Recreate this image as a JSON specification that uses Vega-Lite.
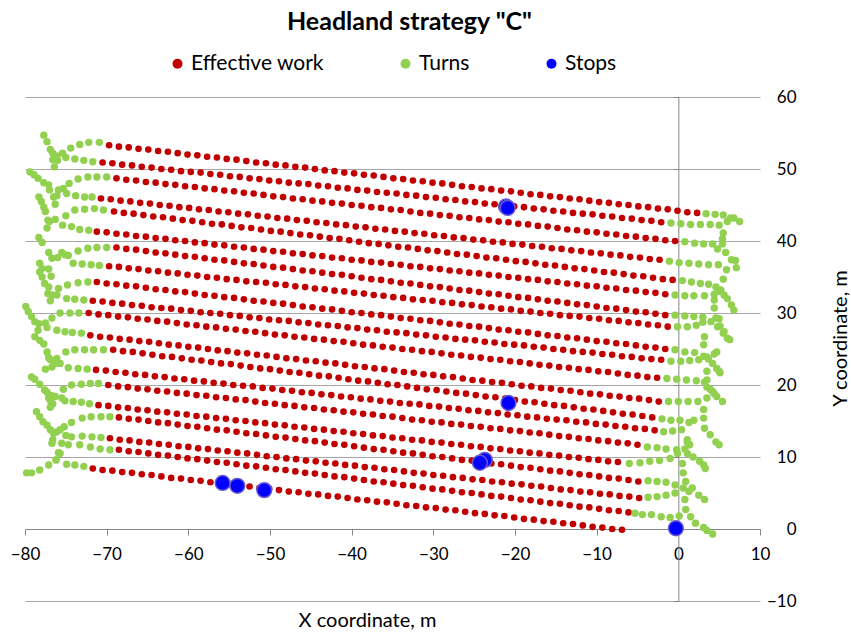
{
"$schema":"https://vega.github.io/schema/vega-lite/v6.json",
"width":735,"height":504,
"autosize":{"type":"none"},
"padding":{"left":25,"top":97,"right":91,"bottom":36},
"config":{"view":{"stroke":null},"font":"Lato"},
"title":{"text":"Headland strategy \"C\"","font":"Lato","fontSize":25,"fontWeight":"bold","color":"#000000","anchor":"middle","dx":17,"dy":-14},
"datasets":{
"work":[
{"x":-69.7,"y":53.3},{"x":-68.5,"y":53.1},{"x":-67.3,"y":53.0},{"x":-66.1,"y":52.8},{"x":-64.9,"y":52.7},{"x":-63.7,"y":52.5},{"x":-62.5,"y":52.4},{"x":-61.3,"y":52.2},{"x":-60.1,"y":52.0},{"x":-58.9,"y":51.9},{"x":-57.7,"y":51.7},{"x":-56.5,"y":51.6},{"x":-55.3,"y":51.4},{"x":-54.1,"y":51.3},{"x":-52.9,"y":51.1},{"x":-51.7,"y":50.9},{"x":-50.5,"y":50.8},{"x":-49.3,"y":50.6},{"x":-48.1,"y":50.5},{"x":-46.9,"y":50.3},{"x":-45.7,"y":50.2},{"x":-44.5,"y":50.0},{"x":-43.3,"y":49.8},{"x":-42.1,"y":49.7},{"x":-40.9,"y":49.5},{"x":-39.7,"y":49.4},{"x":-38.5,"y":49.2},{"x":-37.3,"y":49.1},{"x":-36.1,"y":48.9},{"x":-34.9,"y":48.7},{"x":-33.7,"y":48.6},{"x":-32.5,"y":48.4},{"x":-31.3,"y":48.3},{"x":-30.1,"y":48.1},{"x":-28.9,"y":48.0},{"x":-27.7,"y":47.8},{"x":-26.5,"y":47.6},{"x":-25.3,"y":47.5},{"x":-24.1,"y":47.3},{"x":-22.9,"y":47.2},{"x":-21.7,"y":47.0},{"x":-20.5,"y":46.9},{"x":-19.3,"y":46.7},{"x":-18.1,"y":46.5},{"x":-16.9,"y":46.4},{"x":-15.7,"y":46.2},{"x":-14.5,"y":46.1},{"x":-13.3,"y":45.9},{"x":-12.1,"y":45.8},{"x":-10.9,"y":45.6},{"x":-9.7,"y":45.4},{"x":-8.5,"y":45.3},{"x":-7.3,"y":45.1},{"x":-6.1,"y":45.0},{"x":-4.9,"y":44.8},{"x":-3.7,"y":44.7},{"x":-2.5,"y":44.5},{"x":-1.3,"y":44.4},{"x":-0.1,"y":44.2},{"x":1.1,"y":44.0},{"x":2.3,"y":43.9},
{"x":-70.5,"y":50.9},{"x":-69.3,"y":50.8},{"x":-68.1,"y":50.6},{"x":-66.9,"y":50.5},{"x":-65.7,"y":50.3},{"x":-64.5,"y":50.2},{"x":-63.3,"y":50.0},{"x":-62.1,"y":49.9},{"x":-60.9,"y":49.7},{"x":-59.7,"y":49.6},{"x":-58.5,"y":49.5},{"x":-57.3,"y":49.3},{"x":-56.1,"y":49.2},{"x":-54.9,"y":49.0},{"x":-53.7,"y":48.9},{"x":-52.5,"y":48.7},{"x":-51.3,"y":48.6},{"x":-50.1,"y":48.4},{"x":-48.9,"y":48.3},{"x":-47.7,"y":48.1},{"x":-46.5,"y":48.0},{"x":-45.3,"y":47.9},{"x":-44.1,"y":47.7},{"x":-42.9,"y":47.6},{"x":-41.7,"y":47.4},{"x":-40.5,"y":47.3},{"x":-39.3,"y":47.1},{"x":-38.1,"y":47.0},{"x":-36.9,"y":46.8},{"x":-35.7,"y":46.7},{"x":-34.5,"y":46.6},{"x":-33.3,"y":46.4},{"x":-32.1,"y":46.3},{"x":-30.9,"y":46.1},{"x":-29.7,"y":46.0},{"x":-28.5,"y":45.8},{"x":-27.3,"y":45.7},{"x":-26.1,"y":45.5},{"x":-24.9,"y":45.4},{"x":-23.7,"y":45.2},{"x":-22.5,"y":45.1},{"x":-21.3,"y":45.0},{"x":-20.1,"y":44.8},{"x":-18.9,"y":44.7},{"x":-17.7,"y":44.5},{"x":-16.5,"y":44.4},{"x":-15.3,"y":44.2},{"x":-14.1,"y":44.1},{"x":-12.9,"y":43.9},{"x":-11.7,"y":43.8},{"x":-10.5,"y":43.7},{"x":-9.3,"y":43.5},{"x":-8.1,"y":43.4},{"x":-6.9,"y":43.2},{"x":-5.7,"y":43.1},{"x":-4.5,"y":42.9},{"x":-3.3,"y":42.8},{"x":-2.1,"y":42.6},
{"x":-68.8,"y":48.7},{"x":-67.6,"y":48.5},{"x":-66.4,"y":48.4},{"x":-65.2,"y":48.2},{"x":-64.0,"y":48.1},{"x":-62.8,"y":47.9},{"x":-61.6,"y":47.8},{"x":-60.4,"y":47.6},{"x":-59.2,"y":47.5},{"x":-58.0,"y":47.3},{"x":-56.8,"y":47.2},{"x":-55.6,"y":47.0},{"x":-54.4,"y":46.9},{"x":-53.2,"y":46.7},{"x":-52.0,"y":46.6},{"x":-50.8,"y":46.4},{"x":-49.6,"y":46.2},{"x":-48.4,"y":46.1},{"x":-47.2,"y":45.9},{"x":-46.0,"y":45.8},{"x":-44.8,"y":45.6},{"x":-43.6,"y":45.5},{"x":-42.4,"y":45.3},{"x":-41.2,"y":45.2},{"x":-40.0,"y":45.0},{"x":-38.8,"y":44.9},{"x":-37.6,"y":44.7},{"x":-36.4,"y":44.6},{"x":-35.2,"y":44.4},{"x":-34.0,"y":44.3},{"x":-32.8,"y":44.1},{"x":-31.6,"y":43.9},{"x":-30.4,"y":43.8},{"x":-29.2,"y":43.6},{"x":-28.0,"y":43.5},{"x":-26.8,"y":43.3},{"x":-25.6,"y":43.2},{"x":-24.4,"y":43.0},{"x":-23.2,"y":42.9},{"x":-22.0,"y":42.7},{"x":-20.8,"y":42.6},{"x":-19.6,"y":42.4},{"x":-18.4,"y":42.3},{"x":-17.2,"y":42.1},{"x":-16.0,"y":42.0},{"x":-14.8,"y":41.8},{"x":-13.6,"y":41.6},{"x":-12.4,"y":41.5},{"x":-11.2,"y":41.3},{"x":-10.0,"y":41.2},{"x":-8.8,"y":41.0},{"x":-7.6,"y":40.9},{"x":-6.4,"y":40.7},{"x":-5.2,"y":40.6},{"x":-4.0,"y":40.4},{"x":-2.8,"y":40.3},{"x":-1.6,"y":40.1},{"x":-0.4,"y":40.0},
{"x":-70.7,"y":45.9},{"x":-69.5,"y":45.8},{"x":-68.3,"y":45.6},{"x":-67.1,"y":45.5},{"x":-65.9,"y":45.3},{"x":-64.7,"y":45.2},{"x":-63.5,"y":45.0},{"x":-62.3,"y":44.9},{"x":-61.1,"y":44.7},{"x":-59.9,"y":44.6},{"x":-58.7,"y":44.4},{"x":-57.5,"y":44.3},{"x":-56.3,"y":44.1},{"x":-55.1,"y":44.0},{"x":-53.9,"y":43.8},{"x":-52.7,"y":43.7},{"x":-51.5,"y":43.5},{"x":-50.3,"y":43.4},{"x":-49.1,"y":43.2},{"x":-47.9,"y":43.1},{"x":-46.7,"y":42.9},{"x":-45.5,"y":42.8},{"x":-44.3,"y":42.6},{"x":-43.1,"y":42.5},{"x":-41.9,"y":42.3},{"x":-40.7,"y":42.2},{"x":-39.5,"y":42.0},{"x":-38.3,"y":41.9},{"x":-37.1,"y":41.7},{"x":-35.9,"y":41.6},{"x":-34.7,"y":41.4},{"x":-33.5,"y":41.3},{"x":-32.3,"y":41.1},{"x":-31.1,"y":41.0},{"x":-29.9,"y":40.8},{"x":-28.7,"y":40.7},{"x":-27.5,"y":40.5},{"x":-26.3,"y":40.4},{"x":-25.1,"y":40.2},{"x":-23.9,"y":40.1},{"x":-22.7,"y":39.9},{"x":-21.5,"y":39.8},{"x":-20.3,"y":39.6},{"x":-19.1,"y":39.5},{"x":-17.9,"y":39.3},{"x":-16.7,"y":39.2},{"x":-15.5,"y":39.0},{"x":-14.3,"y":38.9},{"x":-13.1,"y":38.7},{"x":-11.9,"y":38.6},{"x":-10.7,"y":38.4},{"x":-9.5,"y":38.3},{"x":-8.3,"y":38.1},{"x":-7.1,"y":38.0},{"x":-5.9,"y":37.8},{"x":-4.7,"y":37.7},{"x":-3.5,"y":37.5},{"x":-2.3,"y":37.4},
{"x":-69.1,"y":44.1},{"x":-67.9,"y":43.9},{"x":-66.7,"y":43.8},{"x":-65.5,"y":43.6},{"x":-64.3,"y":43.4},{"x":-63.1,"y":43.3},{"x":-61.9,"y":43.1},{"x":-60.7,"y":42.9},{"x":-59.5,"y":42.8},{"x":-58.3,"y":42.6},{"x":-57.1,"y":42.4},{"x":-55.9,"y":42.3},{"x":-54.7,"y":42.1},{"x":-53.5,"y":41.9},{"x":-52.3,"y":41.8},{"x":-51.1,"y":41.6},{"x":-49.9,"y":41.4},{"x":-48.7,"y":41.3},{"x":-47.5,"y":41.1},{"x":-46.3,"y":40.9},{"x":-45.1,"y":40.8},{"x":-43.9,"y":40.6},{"x":-42.7,"y":40.4},{"x":-41.5,"y":40.3},{"x":-40.3,"y":40.1},{"x":-39.1,"y":39.9},{"x":-37.9,"y":39.7},{"x":-36.7,"y":39.6},{"x":-35.5,"y":39.4},{"x":-34.3,"y":39.2},{"x":-33.1,"y":39.1},{"x":-31.9,"y":38.9},{"x":-30.7,"y":38.7},{"x":-29.5,"y":38.6},{"x":-28.3,"y":38.4},{"x":-27.1,"y":38.2},{"x":-25.9,"y":38.1},{"x":-24.7,"y":37.9},{"x":-23.5,"y":37.7},{"x":-22.3,"y":37.6},{"x":-21.1,"y":37.4},{"x":-19.9,"y":37.2},{"x":-18.7,"y":37.1},{"x":-17.5,"y":36.9},{"x":-16.3,"y":36.7},{"x":-15.1,"y":36.6},{"x":-13.9,"y":36.4},{"x":-12.7,"y":36.2},{"x":-11.5,"y":36.1},{"x":-10.3,"y":35.9},{"x":-9.1,"y":35.7},{"x":-7.9,"y":35.6},{"x":-6.7,"y":35.4},{"x":-5.5,"y":35.2},{"x":-4.3,"y":35.1},{"x":-3.1,"y":34.9},{"x":-1.9,"y":34.7},{"x":-0.7,"y":34.6},
{"x":-71.2,"y":41.3},{"x":-70.0,"y":41.2},{"x":-68.8,"y":41.0},{"x":-67.6,"y":40.9},{"x":-66.4,"y":40.7},{"x":-65.2,"y":40.6},{"x":-64.0,"y":40.4},{"x":-62.8,"y":40.3},{"x":-61.6,"y":40.1},{"x":-60.4,"y":40.0},{"x":-59.2,"y":39.8},{"x":-58.0,"y":39.7},{"x":-56.8,"y":39.5},{"x":-55.6,"y":39.4},{"x":-54.4,"y":39.2},{"x":-53.2,"y":39.1},{"x":-52.0,"y":38.9},{"x":-50.8,"y":38.8},{"x":-49.6,"y":38.6},{"x":-48.4,"y":38.5},{"x":-47.2,"y":38.3},{"x":-46.0,"y":38.2},{"x":-44.8,"y":38.0},{"x":-43.6,"y":37.9},{"x":-42.4,"y":37.7},{"x":-41.2,"y":37.6},{"x":-40.0,"y":37.4},{"x":-38.8,"y":37.3},{"x":-37.6,"y":37.1},{"x":-36.4,"y":37.0},{"x":-35.2,"y":36.8},{"x":-34.0,"y":36.7},{"x":-32.8,"y":36.5},{"x":-31.6,"y":36.4},{"x":-30.4,"y":36.2},{"x":-29.2,"y":36.1},{"x":-28.0,"y":35.9},{"x":-26.8,"y":35.8},{"x":-25.6,"y":35.6},{"x":-24.4,"y":35.5},{"x":-23.2,"y":35.3},{"x":-22.0,"y":35.2},{"x":-20.8,"y":35.0},{"x":-19.6,"y":34.9},{"x":-18.4,"y":34.7},{"x":-17.2,"y":34.6},{"x":-16.0,"y":34.4},{"x":-14.8,"y":34.3},{"x":-13.6,"y":34.1},{"x":-12.4,"y":34.0},{"x":-11.2,"y":33.8},{"x":-10.0,"y":33.7},{"x":-8.8,"y":33.5},{"x":-7.6,"y":33.4},{"x":-6.4,"y":33.2},{"x":-5.2,"y":33.1},{"x":-4.0,"y":32.9},{"x":-2.8,"y":32.8},{"x":-1.6,"y":32.6},
{"x":-68.8,"y":39.1},{"x":-67.6,"y":38.9},{"x":-66.4,"y":38.8},{"x":-65.2,"y":38.6},{"x":-64.0,"y":38.4},{"x":-62.8,"y":38.3},{"x":-61.6,"y":38.1},{"x":-60.4,"y":37.9},{"x":-59.2,"y":37.8},{"x":-58.0,"y":37.6},{"x":-56.8,"y":37.4},{"x":-55.6,"y":37.3},{"x":-54.4,"y":37.1},{"x":-53.2,"y":36.9},{"x":-52.0,"y":36.8},{"x":-50.8,"y":36.6},{"x":-49.6,"y":36.4},{"x":-48.4,"y":36.3},{"x":-47.2,"y":36.1},{"x":-46.0,"y":35.9},{"x":-44.8,"y":35.8},{"x":-43.6,"y":35.6},{"x":-42.4,"y":35.4},{"x":-41.2,"y":35.3},{"x":-40.0,"y":35.1},{"x":-38.8,"y":34.9},{"x":-37.6,"y":34.7},{"x":-36.4,"y":34.6},{"x":-35.2,"y":34.4},{"x":-34.0,"y":34.2},{"x":-32.8,"y":34.1},{"x":-31.6,"y":33.9},{"x":-30.4,"y":33.7},{"x":-29.2,"y":33.6},{"x":-28.0,"y":33.4},{"x":-26.8,"y":33.2},{"x":-25.6,"y":33.1},{"x":-24.4,"y":32.9},{"x":-23.2,"y":32.7},{"x":-22.0,"y":32.6},{"x":-20.8,"y":32.4},{"x":-19.6,"y":32.2},{"x":-18.4,"y":32.1},{"x":-17.2,"y":31.9},{"x":-16.0,"y":31.7},{"x":-14.8,"y":31.6},{"x":-13.6,"y":31.4},{"x":-12.4,"y":31.2},{"x":-11.2,"y":31.1},{"x":-10.0,"y":30.9},{"x":-8.8,"y":30.7},{"x":-7.6,"y":30.6},{"x":-6.4,"y":30.4},{"x":-5.2,"y":30.2},{"x":-4.0,"y":30.1},{"x":-2.8,"y":29.9},{"x":-1.6,"y":29.7},
{"x":-69.7,"y":36.5},{"x":-68.5,"y":36.4},{"x":-67.3,"y":36.2},{"x":-66.1,"y":36.1},{"x":-64.9,"y":35.9},{"x":-63.7,"y":35.8},{"x":-62.5,"y":35.6},{"x":-61.3,"y":35.5},{"x":-60.1,"y":35.3},{"x":-58.9,"y":35.2},{"x":-57.7,"y":35.0},{"x":-56.5,"y":34.9},{"x":-55.3,"y":34.7},{"x":-54.1,"y":34.6},{"x":-52.9,"y":34.4},{"x":-51.7,"y":34.3},{"x":-50.5,"y":34.2},{"x":-49.3,"y":34.0},{"x":-48.1,"y":33.9},{"x":-46.9,"y":33.7},{"x":-45.7,"y":33.6},{"x":-44.5,"y":33.4},{"x":-43.3,"y":33.3},{"x":-42.1,"y":33.1},{"x":-40.9,"y":33.0},{"x":-39.7,"y":32.8},{"x":-38.5,"y":32.7},{"x":-37.3,"y":32.5},{"x":-36.1,"y":32.4},{"x":-34.9,"y":32.2},{"x":-33.7,"y":32.1},{"x":-32.5,"y":31.9},{"x":-31.3,"y":31.8},{"x":-30.1,"y":31.7},{"x":-28.9,"y":31.5},{"x":-27.7,"y":31.4},{"x":-26.5,"y":31.2},{"x":-25.3,"y":31.1},{"x":-24.1,"y":30.9},{"x":-22.9,"y":30.8},{"x":-21.7,"y":30.6},{"x":-20.5,"y":30.5},{"x":-19.3,"y":30.3},{"x":-18.1,"y":30.2},{"x":-16.9,"y":30.0},{"x":-15.7,"y":29.9},{"x":-14.5,"y":29.7},{"x":-13.3,"y":29.6},{"x":-12.1,"y":29.5},{"x":-10.9,"y":29.3},{"x":-9.7,"y":29.2},{"x":-8.5,"y":29.0},{"x":-7.3,"y":28.9},{"x":-6.1,"y":28.7},{"x":-4.9,"y":28.6},{"x":-3.7,"y":28.4},{"x":-2.5,"y":28.3},{"x":-1.3,"y":28.1},
{"x":-71.2,"y":34.3},{"x":-70.0,"y":34.1},{"x":-68.8,"y":34.0},{"x":-67.6,"y":33.8},{"x":-66.4,"y":33.7},{"x":-65.2,"y":33.5},{"x":-64.0,"y":33.3},{"x":-62.8,"y":33.2},{"x":-61.6,"y":33.0},{"x":-60.4,"y":32.9},{"x":-59.2,"y":32.7},{"x":-58.0,"y":32.5},{"x":-56.8,"y":32.4},{"x":-55.6,"y":32.2},{"x":-54.4,"y":32.1},{"x":-53.2,"y":31.9},{"x":-52.0,"y":31.7},{"x":-50.8,"y":31.6},{"x":-49.6,"y":31.4},{"x":-48.4,"y":31.3},{"x":-47.2,"y":31.1},{"x":-46.0,"y":30.9},{"x":-44.8,"y":30.8},{"x":-43.6,"y":30.6},{"x":-42.4,"y":30.5},{"x":-41.2,"y":30.3},{"x":-40.0,"y":30.1},{"x":-38.8,"y":30.0},{"x":-37.6,"y":29.8},{"x":-36.4,"y":29.7},{"x":-35.2,"y":29.5},{"x":-34.0,"y":29.3},{"x":-32.8,"y":29.2},{"x":-31.6,"y":29.0},{"x":-30.4,"y":28.9},{"x":-29.2,"y":28.7},{"x":-28.0,"y":28.5},{"x":-26.8,"y":28.4},{"x":-25.6,"y":28.2},{"x":-24.4,"y":28.1},{"x":-23.2,"y":27.9},{"x":-22.0,"y":27.7},{"x":-20.8,"y":27.6},{"x":-19.6,"y":27.4},{"x":-18.4,"y":27.3},{"x":-17.2,"y":27.1},{"x":-16.0,"y":26.9},{"x":-14.8,"y":26.8},{"x":-13.6,"y":26.6},{"x":-12.4,"y":26.5},{"x":-11.2,"y":26.3},{"x":-10.0,"y":26.1},{"x":-8.8,"y":26.0},{"x":-7.6,"y":25.8},{"x":-6.4,"y":25.7},{"x":-5.2,"y":25.5},{"x":-4.0,"y":25.3},{"x":-2.8,"y":25.2},{"x":-1.6,"y":25.0},
{"x":-71.7,"y":31.7},{"x":-70.5,"y":31.6},{"x":-69.3,"y":31.4},{"x":-68.1,"y":31.3},{"x":-66.9,"y":31.1},{"x":-65.7,"y":31.0},{"x":-64.5,"y":30.8},{"x":-63.3,"y":30.7},{"x":-62.1,"y":30.6},{"x":-60.9,"y":30.4},{"x":-59.7,"y":30.3},{"x":-58.5,"y":30.1},{"x":-57.3,"y":30.0},{"x":-56.1,"y":29.9},{"x":-54.9,"y":29.7},{"x":-53.7,"y":29.6},{"x":-52.5,"y":29.4},{"x":-51.3,"y":29.3},{"x":-50.1,"y":29.1},{"x":-48.9,"y":29.0},{"x":-47.7,"y":28.9},{"x":-46.5,"y":28.7},{"x":-45.3,"y":28.6},{"x":-44.1,"y":28.4},{"x":-42.9,"y":28.3},{"x":-41.7,"y":28.2},{"x":-40.5,"y":28.0},{"x":-39.3,"y":27.9},{"x":-38.1,"y":27.7},{"x":-36.9,"y":27.6},{"x":-35.7,"y":27.4},{"x":-34.5,"y":27.3},{"x":-33.3,"y":27.2},{"x":-32.1,"y":27.0},{"x":-30.9,"y":26.9},{"x":-29.7,"y":26.7},{"x":-28.5,"y":26.6},{"x":-27.3,"y":26.4},{"x":-26.1,"y":26.3},{"x":-24.9,"y":26.2},{"x":-23.7,"y":26.0},{"x":-22.5,"y":25.9},{"x":-21.3,"y":25.7},{"x":-20.1,"y":25.6},{"x":-18.9,"y":25.5},{"x":-17.7,"y":25.3},{"x":-16.5,"y":25.2},{"x":-15.3,"y":25.0},{"x":-14.1,"y":24.9},{"x":-12.9,"y":24.7},{"x":-11.7,"y":24.6},{"x":-10.5,"y":24.5},{"x":-9.3,"y":24.3},{"x":-8.1,"y":24.2},{"x":-6.9,"y":24.0},{"x":-5.7,"y":23.9},{"x":-4.5,"y":23.7},{"x":-3.3,"y":23.6},{"x":-2.1,"y":23.5},
{"x":-72.2,"y":30.0},{"x":-71.0,"y":29.8},{"x":-69.8,"y":29.7},{"x":-68.6,"y":29.5},{"x":-67.4,"y":29.4},{"x":-66.2,"y":29.2},{"x":-65.0,"y":29.1},{"x":-63.8,"y":28.9},{"x":-62.6,"y":28.8},{"x":-61.4,"y":28.6},{"x":-60.2,"y":28.4},{"x":-59.0,"y":28.3},{"x":-57.8,"y":28.1},{"x":-56.6,"y":28.0},{"x":-55.4,"y":27.8},{"x":-54.2,"y":27.7},{"x":-53.0,"y":27.5},{"x":-51.8,"y":27.4},{"x":-50.6,"y":27.2},{"x":-49.4,"y":27.0},{"x":-48.2,"y":26.9},{"x":-47.0,"y":26.7},{"x":-45.8,"y":26.6},{"x":-44.6,"y":26.4},{"x":-43.4,"y":26.3},{"x":-42.2,"y":26.1},{"x":-41.0,"y":26.0},{"x":-39.8,"y":25.8},{"x":-38.6,"y":25.6},{"x":-37.4,"y":25.5},{"x":-36.2,"y":25.3},{"x":-35.0,"y":25.2},{"x":-33.8,"y":25.0},{"x":-32.6,"y":24.9},{"x":-31.4,"y":24.7},{"x":-30.2,"y":24.6},{"x":-29.0,"y":24.4},{"x":-27.8,"y":24.2},{"x":-26.6,"y":24.1},{"x":-25.4,"y":23.9},{"x":-24.2,"y":23.8},{"x":-23.0,"y":23.6},{"x":-21.8,"y":23.5},{"x":-20.6,"y":23.3},{"x":-19.4,"y":23.2},{"x":-18.2,"y":23.0},{"x":-17.0,"y":22.8},{"x":-15.8,"y":22.7},{"x":-14.6,"y":22.5},{"x":-13.4,"y":22.4},{"x":-12.2,"y":22.2},{"x":-11.0,"y":22.1},{"x":-9.8,"y":21.9},{"x":-8.6,"y":21.8},{"x":-7.4,"y":21.6},{"x":-6.2,"y":21.4},{"x":-5.0,"y":21.3},{"x":-3.8,"y":21.1},{"x":-2.6,"y":21.0},
{"x":-72.0,"y":26.9},{"x":-70.8,"y":26.7},{"x":-69.6,"y":26.6},{"x":-68.4,"y":26.4},{"x":-67.2,"y":26.3},{"x":-66.0,"y":26.1},{"x":-64.8,"y":26.0},{"x":-63.6,"y":25.8},{"x":-62.4,"y":25.6},{"x":-61.2,"y":25.5},{"x":-60.0,"y":25.3},{"x":-58.8,"y":25.2},{"x":-57.6,"y":25.0},{"x":-56.4,"y":24.8},{"x":-55.2,"y":24.7},{"x":-54.0,"y":24.5},{"x":-52.8,"y":24.4},{"x":-51.6,"y":24.2},{"x":-50.4,"y":24.1},{"x":-49.2,"y":23.9},{"x":-48.0,"y":23.7},{"x":-46.8,"y":23.6},{"x":-45.6,"y":23.4},{"x":-44.4,"y":23.3},{"x":-43.2,"y":23.1},{"x":-42.0,"y":23.0},{"x":-40.8,"y":22.8},{"x":-39.6,"y":22.6},{"x":-38.4,"y":22.5},{"x":-37.2,"y":22.3},{"x":-36.0,"y":22.2},{"x":-34.8,"y":22.0},{"x":-33.6,"y":21.8},{"x":-32.4,"y":21.7},{"x":-31.2,"y":21.5},{"x":-30.0,"y":21.4},{"x":-28.8,"y":21.2},{"x":-27.6,"y":21.1},{"x":-26.4,"y":20.9},{"x":-25.2,"y":20.7},{"x":-24.0,"y":20.6},{"x":-22.8,"y":20.4},{"x":-21.6,"y":20.3},{"x":-20.4,"y":20.1},{"x":-19.2,"y":19.9},{"x":-18.0,"y":19.8},{"x":-16.8,"y":19.6},{"x":-15.6,"y":19.5},{"x":-14.4,"y":19.3},{"x":-13.2,"y":19.2},{"x":-12.0,"y":19.0},{"x":-10.8,"y":18.8},{"x":-9.6,"y":18.7},{"x":-8.4,"y":18.5},{"x":-7.2,"y":18.4},{"x":-6.0,"y":18.2},{"x":-4.8,"y":18.1},{"x":-3.6,"y":17.9},{"x":-2.4,"y":17.7},
{"x":-69.2,"y":24.9},{"x":-68.0,"y":24.7},{"x":-66.8,"y":24.6},{"x":-65.6,"y":24.4},{"x":-64.4,"y":24.2},{"x":-63.2,"y":24.0},{"x":-62.0,"y":23.9},{"x":-60.8,"y":23.7},{"x":-59.6,"y":23.5},{"x":-58.4,"y":23.4},{"x":-57.2,"y":23.2},{"x":-56.0,"y":23.0},{"x":-54.8,"y":22.9},{"x":-53.6,"y":22.7},{"x":-52.4,"y":22.5},{"x":-51.2,"y":22.3},{"x":-50.0,"y":22.2},{"x":-48.8,"y":22.0},{"x":-47.6,"y":21.8},{"x":-46.4,"y":21.7},{"x":-45.2,"y":21.5},{"x":-44.0,"y":21.3},{"x":-42.8,"y":21.2},{"x":-41.6,"y":21.0},{"x":-40.4,"y":20.8},{"x":-39.2,"y":20.6},{"x":-38.0,"y":20.5},{"x":-36.8,"y":20.3},{"x":-35.6,"y":20.1},{"x":-34.4,"y":20.0},{"x":-33.2,"y":19.8},{"x":-32.0,"y":19.6},{"x":-30.8,"y":19.4},{"x":-29.6,"y":19.3},{"x":-28.4,"y":19.1},{"x":-27.2,"y":18.9},{"x":-26.0,"y":18.8},{"x":-24.8,"y":18.6},{"x":-23.6,"y":18.4},{"x":-22.4,"y":18.3},{"x":-21.2,"y":18.1},{"x":-20.0,"y":17.9},{"x":-18.8,"y":17.7},{"x":-17.6,"y":17.6},{"x":-16.4,"y":17.4},{"x":-15.2,"y":17.2},{"x":-14.0,"y":17.1},{"x":-12.8,"y":16.9},{"x":-11.6,"y":16.7},{"x":-10.4,"y":16.6},{"x":-9.2,"y":16.4},{"x":-8.0,"y":16.2},{"x":-6.8,"y":16.0},{"x":-5.6,"y":15.9},{"x":-4.4,"y":15.7},{"x":-3.2,"y":15.5},
{"x":-71.3,"y":22.1},{"x":-70.1,"y":22.0},{"x":-68.9,"y":21.8},{"x":-67.7,"y":21.7},{"x":-66.5,"y":21.5},{"x":-65.3,"y":21.4},{"x":-64.1,"y":21.2},{"x":-62.9,"y":21.1},{"x":-61.7,"y":20.9},{"x":-60.5,"y":20.8},{"x":-59.3,"y":20.6},{"x":-58.1,"y":20.5},{"x":-56.9,"y":20.3},{"x":-55.7,"y":20.2},{"x":-54.5,"y":20.0},{"x":-53.3,"y":19.9},{"x":-52.1,"y":19.8},{"x":-50.9,"y":19.6},{"x":-49.7,"y":19.5},{"x":-48.5,"y":19.3},{"x":-47.3,"y":19.2},{"x":-46.1,"y":19.0},{"x":-44.9,"y":18.9},{"x":-43.7,"y":18.7},{"x":-42.5,"y":18.6},{"x":-41.3,"y":18.4},{"x":-40.1,"y":18.3},{"x":-38.9,"y":18.1},{"x":-37.7,"y":18.0},{"x":-36.5,"y":17.8},{"x":-35.3,"y":17.7},{"x":-34.1,"y":17.5},{"x":-32.9,"y":17.4},{"x":-31.7,"y":17.3},{"x":-30.5,"y":17.1},{"x":-29.3,"y":17.0},{"x":-28.1,"y":16.8},{"x":-26.9,"y":16.7},{"x":-25.7,"y":16.5},{"x":-24.5,"y":16.4},{"x":-23.3,"y":16.2},{"x":-22.1,"y":16.1},{"x":-20.9,"y":15.9},{"x":-19.7,"y":15.8},{"x":-18.5,"y":15.6},{"x":-17.3,"y":15.5},{"x":-16.1,"y":15.3},{"x":-14.9,"y":15.2},{"x":-13.7,"y":15.1},{"x":-12.5,"y":14.9},{"x":-11.3,"y":14.8},{"x":-10.1,"y":14.6},{"x":-8.9,"y":14.5},{"x":-7.7,"y":14.3},{"x":-6.5,"y":14.2},{"x":-5.3,"y":14.0},{"x":-4.1,"y":13.9},{"x":-2.9,"y":13.7},
{"x":-69.8,"y":20.0},{"x":-68.6,"y":19.8},{"x":-67.4,"y":19.7},{"x":-66.2,"y":19.5},{"x":-65.0,"y":19.4},{"x":-63.8,"y":19.2},{"x":-62.6,"y":19.1},{"x":-61.4,"y":18.9},{"x":-60.2,"y":18.8},{"x":-59.0,"y":18.6},{"x":-57.8,"y":18.5},{"x":-56.6,"y":18.3},{"x":-55.4,"y":18.2},{"x":-54.2,"y":18.0},{"x":-53.0,"y":17.9},{"x":-51.8,"y":17.7},{"x":-50.6,"y":17.5},{"x":-49.4,"y":17.4},{"x":-48.2,"y":17.2},{"x":-47.0,"y":17.1},{"x":-45.8,"y":16.9},{"x":-44.6,"y":16.8},{"x":-43.4,"y":16.6},{"x":-42.2,"y":16.5},{"x":-41.0,"y":16.3},{"x":-39.8,"y":16.2},{"x":-38.6,"y":16.0},{"x":-37.4,"y":15.9},{"x":-36.2,"y":15.7},{"x":-35.0,"y":15.6},{"x":-33.8,"y":15.4},{"x":-32.6,"y":15.2},{"x":-31.4,"y":15.1},{"x":-30.2,"y":14.9},{"x":-29.0,"y":14.8},{"x":-27.8,"y":14.6},{"x":-26.6,"y":14.5},{"x":-25.4,"y":14.3},{"x":-24.2,"y":14.2},{"x":-23.0,"y":14.0},{"x":-21.8,"y":13.9},{"x":-20.6,"y":13.7},{"x":-19.4,"y":13.6},{"x":-18.2,"y":13.4},{"x":-17.0,"y":13.3},{"x":-15.8,"y":13.1},{"x":-14.6,"y":12.9},{"x":-13.4,"y":12.8},{"x":-12.2,"y":12.6},{"x":-11.0,"y":12.5},{"x":-9.8,"y":12.3},{"x":-8.6,"y":12.2},{"x":-7.4,"y":12.0},{"x":-6.2,"y":11.9},{"x":-5.0,"y":11.7},
{"x":-71.0,"y":17.2},{"x":-69.8,"y":17.1},{"x":-68.6,"y":16.9},{"x":-67.4,"y":16.8},{"x":-66.2,"y":16.6},{"x":-65.0,"y":16.5},{"x":-63.8,"y":16.3},{"x":-62.6,"y":16.2},{"x":-61.4,"y":16.0},{"x":-60.2,"y":15.9},{"x":-59.0,"y":15.7},{"x":-57.8,"y":15.6},{"x":-56.6,"y":15.4},{"x":-55.4,"y":15.3},{"x":-54.2,"y":15.1},{"x":-53.0,"y":15.0},{"x":-51.8,"y":14.8},{"x":-50.6,"y":14.7},{"x":-49.4,"y":14.5},{"x":-48.2,"y":14.4},{"x":-47.0,"y":14.2},{"x":-45.8,"y":14.1},{"x":-44.6,"y":13.9},{"x":-43.4,"y":13.8},{"x":-42.2,"y":13.6},{"x":-41.0,"y":13.5},{"x":-39.8,"y":13.3},{"x":-38.6,"y":13.2},{"x":-37.4,"y":13.0},{"x":-36.2,"y":12.9},{"x":-35.0,"y":12.7},{"x":-33.8,"y":12.6},{"x":-32.6,"y":12.4},{"x":-31.4,"y":12.3},{"x":-30.2,"y":12.1},{"x":-29.0,"y":12.0},{"x":-27.8,"y":11.8},{"x":-26.6,"y":11.7},{"x":-25.4,"y":11.5},{"x":-24.2,"y":11.4},{"x":-23.0,"y":11.2},{"x":-21.8,"y":11.1},{"x":-20.6,"y":10.9},{"x":-19.4,"y":10.8},{"x":-18.2,"y":10.6},{"x":-17.0,"y":10.5},{"x":-15.8,"y":10.3},{"x":-14.6,"y":10.2},{"x":-13.4,"y":10.0},{"x":-12.2,"y":9.9},{"x":-11.0,"y":9.7},{"x":-9.8,"y":9.6},{"x":-8.6,"y":9.4},{"x":-7.4,"y":9.3},
{"x":-68.5,"y":15.5},{"x":-67.3,"y":15.3},{"x":-66.1,"y":15.2},{"x":-64.9,"y":15.0},{"x":-63.7,"y":14.8},{"x":-62.5,"y":14.7},{"x":-61.3,"y":14.5},{"x":-60.1,"y":14.3},{"x":-58.9,"y":14.2},{"x":-57.7,"y":14.0},{"x":-56.5,"y":13.8},{"x":-55.3,"y":13.7},{"x":-54.1,"y":13.5},{"x":-52.9,"y":13.3},{"x":-51.7,"y":13.2},{"x":-50.5,"y":13.0},{"x":-49.3,"y":12.8},{"x":-48.1,"y":12.7},{"x":-46.9,"y":12.5},{"x":-45.7,"y":12.3},{"x":-44.5,"y":12.2},{"x":-43.3,"y":12.0},{"x":-42.1,"y":11.8},{"x":-40.9,"y":11.7},{"x":-39.7,"y":11.5},{"x":-38.5,"y":11.3},{"x":-37.3,"y":11.1},{"x":-36.1,"y":11.0},{"x":-34.9,"y":10.8},{"x":-33.7,"y":10.6},{"x":-32.5,"y":10.5},{"x":-31.3,"y":10.3},{"x":-30.1,"y":10.1},{"x":-28.9,"y":10.0},{"x":-27.7,"y":9.8},{"x":-26.5,"y":9.6},{"x":-25.3,"y":9.5},{"x":-24.1,"y":9.3},{"x":-22.9,"y":9.1},{"x":-21.7,"y":9.0},{"x":-20.5,"y":8.8},{"x":-19.3,"y":8.6},{"x":-18.1,"y":8.5},{"x":-16.9,"y":8.3},{"x":-15.7,"y":8.1},{"x":-14.5,"y":8.0},{"x":-13.3,"y":7.8},{"x":-12.1,"y":7.6},{"x":-10.9,"y":7.5},{"x":-9.7,"y":7.3},{"x":-8.5,"y":7.1},{"x":-7.3,"y":7.0},{"x":-6.1,"y":6.8},{"x":-4.9,"y":6.6},
{"x":-69.6,"y":12.6},{"x":-68.4,"y":12.4},{"x":-67.2,"y":12.3},{"x":-66.0,"y":12.1},{"x":-64.8,"y":12.0},{"x":-63.6,"y":11.8},{"x":-62.4,"y":11.7},{"x":-61.2,"y":11.5},{"x":-60.0,"y":11.4},{"x":-58.8,"y":11.2},{"x":-57.6,"y":11.1},{"x":-56.4,"y":10.9},{"x":-55.2,"y":10.8},{"x":-54.0,"y":10.6},{"x":-52.8,"y":10.5},{"x":-51.6,"y":10.3},{"x":-50.4,"y":10.1},{"x":-49.2,"y":10.0},{"x":-48.0,"y":9.8},{"x":-46.8,"y":9.7},{"x":-45.6,"y":9.5},{"x":-44.4,"y":9.4},{"x":-43.2,"y":9.2},{"x":-42.0,"y":9.1},{"x":-40.8,"y":8.9},{"x":-39.6,"y":8.8},{"x":-38.4,"y":8.6},{"x":-37.2,"y":8.5},{"x":-36.0,"y":8.3},{"x":-34.8,"y":8.2},{"x":-33.6,"y":8.0},{"x":-32.4,"y":7.8},{"x":-31.2,"y":7.7},{"x":-30.0,"y":7.5},{"x":-28.8,"y":7.4},{"x":-27.6,"y":7.2},{"x":-26.4,"y":7.1},{"x":-25.2,"y":6.9},{"x":-24.0,"y":6.8},{"x":-22.8,"y":6.6},{"x":-21.6,"y":6.5},{"x":-20.4,"y":6.3},{"x":-19.2,"y":6.2},{"x":-18.0,"y":6.0},{"x":-16.8,"y":5.9},{"x":-15.6,"y":5.7},{"x":-14.4,"y":5.5},{"x":-13.2,"y":5.4},{"x":-12.0,"y":5.2},{"x":-10.8,"y":5.1},{"x":-9.6,"y":4.9},{"x":-8.4,"y":4.8},{"x":-7.2,"y":4.6},{"x":-6.0,"y":4.5},{"x":-4.8,"y":4.3},
{"x":-68.5,"y":11.0},{"x":-67.3,"y":10.8},{"x":-66.1,"y":10.7},{"x":-64.9,"y":10.5},{"x":-63.7,"y":10.3},{"x":-62.5,"y":10.2},{"x":-61.3,"y":10.0},{"x":-60.1,"y":9.8},{"x":-58.9,"y":9.7},{"x":-57.7,"y":9.5},{"x":-56.5,"y":9.3},{"x":-55.3,"y":9.2},{"x":-54.1,"y":9.0},{"x":-52.9,"y":8.8},{"x":-51.7,"y":8.7},{"x":-50.5,"y":8.5},{"x":-49.3,"y":8.3},{"x":-48.1,"y":8.2},{"x":-46.9,"y":8.0},{"x":-45.7,"y":7.8},{"x":-44.5,"y":7.7},{"x":-43.3,"y":7.5},{"x":-42.1,"y":7.3},{"x":-40.9,"y":7.2},{"x":-39.7,"y":7.0},{"x":-38.5,"y":6.8},{"x":-37.3,"y":6.6},{"x":-36.1,"y":6.5},{"x":-34.9,"y":6.3},{"x":-33.7,"y":6.1},{"x":-32.5,"y":6.0},{"x":-31.3,"y":5.8},{"x":-30.1,"y":5.6},{"x":-28.9,"y":5.5},{"x":-27.7,"y":5.3},{"x":-26.5,"y":5.1},{"x":-25.3,"y":5.0},{"x":-24.1,"y":4.8},{"x":-22.9,"y":4.6},{"x":-21.7,"y":4.5},{"x":-20.5,"y":4.3},{"x":-19.3,"y":4.1},{"x":-18.1,"y":4.0},{"x":-16.9,"y":3.8},{"x":-15.7,"y":3.6},{"x":-14.5,"y":3.5},{"x":-13.3,"y":3.3},{"x":-12.1,"y":3.1},{"x":-10.9,"y":3.0},{"x":-9.7,"y":2.8},{"x":-8.5,"y":2.6},{"x":-7.3,"y":2.5},{"x":-6.1,"y":2.3},
{"x":-71.7,"y":8.4},{"x":-70.5,"y":8.2},{"x":-69.3,"y":8.1},{"x":-68.1,"y":7.9},{"x":-66.9,"y":7.8},{"x":-65.7,"y":7.6},{"x":-64.5,"y":7.5},{"x":-63.3,"y":7.3},{"x":-62.1,"y":7.1},{"x":-60.9,"y":7.0},{"x":-59.7,"y":6.8},{"x":-58.5,"y":6.7},{"x":-57.3,"y":6.5},{"x":-56.1,"y":6.3},{"x":-54.9,"y":6.2},{"x":-53.7,"y":6.0},{"x":-52.5,"y":5.9},{"x":-51.3,"y":5.7},{"x":-50.1,"y":5.6},{"x":-48.9,"y":5.4},{"x":-47.7,"y":5.2},{"x":-46.5,"y":5.1},{"x":-45.3,"y":4.9},{"x":-44.1,"y":4.8},{"x":-42.9,"y":4.6},{"x":-41.7,"y":4.5},{"x":-40.5,"y":4.3},{"x":-39.3,"y":4.1},{"x":-38.1,"y":4.0},{"x":-36.9,"y":3.8},{"x":-35.7,"y":3.7},{"x":-34.5,"y":3.5},{"x":-33.3,"y":3.3},{"x":-32.1,"y":3.2},{"x":-30.9,"y":3.0},{"x":-29.7,"y":2.9},{"x":-28.5,"y":2.7},{"x":-27.3,"y":2.6},{"x":-26.1,"y":2.4},{"x":-24.9,"y":2.2},{"x":-23.7,"y":2.1},{"x":-22.5,"y":1.9},{"x":-21.3,"y":1.8},{"x":-20.1,"y":1.6},{"x":-18.9,"y":1.4},{"x":-17.7,"y":1.3},{"x":-16.5,"y":1.1},{"x":-15.3,"y":1.0},{"x":-14.1,"y":0.8},{"x":-12.9,"y":0.7},{"x":-11.7,"y":0.5},{"x":-10.5,"y":0.3},{"x":-9.3,"y":0.2},{"x":-8.1,"y":0.0},{"x":-6.9,"y":-0.1}
],
"turns":[
{"x":-77.7,"y":54.7},{"x":-77.3,"y":53.8},{"x":-76.9,"y":52.7},{"x":-76.6,"y":52.2},{"x":-76.1,"y":51.8},{"x":-75.4,"y":52.2},{"x":-75.0,"y":51.6},{"x":-76.0,"y":51.2},{"x":-76.6,"y":51.3},{"x":-76.4,"y":50.3},{"x":-74.4,"y":52.9},{"x":-73.3,"y":53.4},{"x":-72.2,"y":53.7},{"x":-70.9,"y":53.7},{"x":-73.9,"y":51.4},{"x":-72.8,"y":51.2},{"x":-71.7,"y":51.0},
{"x":-79.4,"y":49.6},{"x":-78.9,"y":49.2},{"x":-78.4,"y":48.7},{"x":-77.7,"y":48.1},{"x":-77.1,"y":47.8},{"x":-77.0,"y":47.1},{"x":-75.9,"y":47.1},{"x":-75.3,"y":47.3},{"x":-76.1,"y":46.3},{"x":-76.5,"y":46.1},{"x":-76.3,"y":45.1},{"x":-74.6,"y":48.0},{"x":-73.5,"y":48.6},{"x":-72.3,"y":48.9},{"x":-71.2,"y":48.9},{"x":-70.0,"y":48.9},{"x":-74.9,"y":46.6},{"x":-73.8,"y":46.3},{"x":-72.7,"y":46.1},{"x":-71.8,"y":46.1},
{"x":-78.3,"y":46.1},{"x":-78.0,"y":45.5},{"x":-77.7,"y":44.7},{"x":-77.5,"y":44.1},{"x":-77.2,"y":42.9},{"x":-77.0,"y":42.7},{"x":-76.3,"y":43.0},{"x":-77.3,"y":41.8},{"x":-75.0,"y":43.5},{"x":-73.9,"y":44.3},{"x":-72.7,"y":44.4},{"x":-71.5,"y":44.5},{"x":-70.4,"y":44.3},{"x":-75.4,"y":42.2},{"x":-74.3,"y":42.0},{"x":-73.3,"y":41.6},{"x":-72.2,"y":41.5},
{"x":-78.3,"y":40.5},{"x":-77.9,"y":39.8},{"x":-77.1,"y":38.4},{"x":-76.7,"y":37.6},{"x":-76.0,"y":37.7},{"x":-75.5,"y":38.4},{"x":-75.1,"y":38.1},{"x":-78.2,"y":36.9},{"x":-77.9,"y":36.2},{"x":-77.1,"y":36.1},{"x":-76.8,"y":35.1},{"x":-74.7,"y":38.0},{"x":-73.5,"y":38.6},{"x":-72.3,"y":39.0},{"x":-71.2,"y":39.1},{"x":-70.0,"y":39.1},{"x":-74.1,"y":36.9},{"x":-73.0,"y":36.8},{"x":-71.9,"y":36.7},{"x":-70.9,"y":36.6},
{"x":-78.2,"y":35.7},{"x":-77.9,"y":35.0},{"x":-77.6,"y":34.1},{"x":-77.1,"y":33.6},{"x":-77.2,"y":32.7},{"x":-76.7,"y":32.5},{"x":-76.1,"y":32.5},{"x":-75.9,"y":33.4},{"x":-76.9,"y":31.7},{"x":-74.8,"y":33.9},{"x":-73.5,"y":34.2},{"x":-72.3,"y":34.3},{"x":-74.9,"y":32.0},{"x":-73.9,"y":31.9},{"x":-72.8,"y":31.8},
{"x":-79.9,"y":30.9},{"x":-79.6,"y":30.2},{"x":-79.2,"y":29.5},{"x":-78.8,"y":28.8},{"x":-78.3,"y":28.5},{"x":-77.5,"y":28.6},{"x":-77.3,"y":28.0},{"x":-78.4,"y":27.6},{"x":-78.8,"y":26.7},{"x":-78.2,"y":26.2},{"x":-77.7,"y":25.7},{"x":-77.3,"y":24.6},{"x":-77.1,"y":23.8},{"x":-76.9,"y":23.5},{"x":-76.1,"y":23.7},{"x":-76.3,"y":23.0},{"x":-76.7,"y":22.5},{"x":-77.5,"y":22.2},{"x":-76.7,"y":29.3},{"x":-75.7,"y":30.0},{"x":-74.5,"y":30.0},{"x":-73.4,"y":30.0},{"x":-76.1,"y":27.6},{"x":-75.1,"y":27.4},{"x":-74.2,"y":27.3},{"x":-73.1,"y":27.2},
{"x":-75.0,"y":24.6},{"x":-73.9,"y":24.9},{"x":-72.7,"y":24.9},{"x":-71.6,"y":24.9},{"x":-70.4,"y":24.9},{"x":-75.7,"y":23.0},{"x":-74.7,"y":22.4},{"x":-73.5,"y":22.3},{"x":-72.4,"y":22.2},
{"x":-79.2,"y":21.1},{"x":-78.8,"y":20.8},{"x":-78.2,"y":20.1},{"x":-77.6,"y":19.3},{"x":-77.3,"y":19.0},{"x":-77.1,"y":18.2},{"x":-76.7,"y":18.5},{"x":-76.9,"y":17.8},{"x":-76.6,"y":17.4},{"x":-76.3,"y":18.4},{"x":-75.5,"y":18.2},{"x":-76.9,"y":16.9},{"x":-75.3,"y":19.4},{"x":-74.3,"y":20.0},{"x":-73.1,"y":20.1},{"x":-72.0,"y":20.2},{"x":-71.0,"y":20.2},{"x":-75.1,"y":17.8},{"x":-74.1,"y":17.7},{"x":-73.1,"y":17.6},{"x":-72.1,"y":17.4},
{"x":-78.6,"y":16.3},{"x":-78.2,"y":15.6},{"x":-77.8,"y":14.9},{"x":-77.3,"y":14.4},{"x":-76.9,"y":13.8},{"x":-76.5,"y":13.3},{"x":-76.6,"y":12.4},{"x":-76.1,"y":13.5},{"x":-75.7,"y":13.8},{"x":-75.2,"y":14.2},{"x":-75.0,"y":13.0},{"x":-75.5,"y":11.9},{"x":-75.9,"y":10.6},{"x":-76.2,"y":9.6},{"x":-76.7,"y":11.9},{"x":-74.3,"y":14.8},{"x":-73.0,"y":15.4},{"x":-71.9,"y":15.6},{"x":-70.7,"y":15.6},{"x":-69.6,"y":15.6},{"x":-74.3,"y":12.8},{"x":-73.0,"y":12.9},{"x":-71.8,"y":12.8},{"x":-70.7,"y":12.7},
{"x":-74.7,"y":11.7},{"x":-73.3,"y":11.7},{"x":-72.0,"y":11.4},{"x":-70.8,"y":11.1},{"x":-69.6,"y":11.0},{"x":-79.8,"y":7.8},{"x":-79.2,"y":7.8},{"x":-78.2,"y":8.2},{"x":-77.1,"y":8.9},{"x":-76.2,"y":9.6},{"x":-75.7,"y":10.5},{"x":-74.9,"y":9.0},{"x":-73.9,"y":8.9},{"x":-72.8,"y":8.7},
{"x":3.4,"y":43.8},{"x":4.5,"y":43.7},{"x":5.5,"y":43.6},{"x":6.4,"y":43.2},{"x":6.8,"y":43.2},{"x":7.5,"y":42.7},{"x":6.0,"y":42.7},
{"x":-0.9,"y":42.5},{"x":0.3,"y":42.4},{"x":1.5,"y":42.3},{"x":2.7,"y":42.3},{"x":3.9,"y":42.3},{"x":5.0,"y":42.2},{"x":5.5,"y":41.1},{"x":5.4,"y":40.3},
{"x":0.8,"y":39.9},{"x":2.0,"y":39.7},{"x":3.1,"y":39.6},{"x":4.2,"y":39.6},{"x":5.4,"y":39.6},{"x":4.8,"y":38.9},{"x":5.8,"y":38.4},{"x":6.5,"y":37.4},{"x":7.0,"y":37.3},{"x":7.1,"y":36.3},{"x":5.9,"y":36.0},{"x":5.5,"y":34.7},
{"x":-1.1,"y":37.2},{"x":0.1,"y":37.0},{"x":1.3,"y":36.9},{"x":2.5,"y":36.8},{"x":3.7,"y":36.7},{"x":4.9,"y":36.7},
{"x":0.5,"y":34.5},{"x":1.6,"y":34.3},{"x":2.7,"y":34.1},{"x":3.7,"y":34.0},{"x":4.6,"y":33.6},{"x":5.2,"y":33.2},{"x":5.6,"y":32.5},{"x":6.0,"y":32.0},{"x":6.5,"y":31.1},{"x":6.8,"y":30.4},
{"x":-0.4,"y":32.5},{"x":0.8,"y":32.4},{"x":1.9,"y":32.4},{"x":3.2,"y":32.4},{"x":4.4,"y":32.6},{"x":4.9,"y":33.0},{"x":4.4,"y":31.8},{"x":4.4,"y":30.7},{"x":4.6,"y":29.3},{"x":5.0,"y":29.2},{"x":4.8,"y":28.1},{"x":5.1,"y":28.2},{"x":5.5,"y":27.2},{"x":5.6,"y":27.4},{"x":6.0,"y":26.5},{"x":6.3,"y":26.3},
{"x":-0.4,"y":29.7},{"x":0.8,"y":29.6},{"x":1.9,"y":29.5},{"x":3.0,"y":29.4},{"x":4.0,"y":28.8},
{"x":-0.1,"y":28.1},{"x":1.1,"y":28.1},{"x":2.2,"y":28.3},{"x":3.0,"y":28.7},{"x":3.2,"y":26.7},{"x":3.1,"y":25.6},
{"x":-0.4,"y":24.9},{"x":0.8,"y":24.6},{"x":2.0,"y":24.5},{"x":3.1,"y":24.0},{"x":3.7,"y":23.6},{"x":4.2,"y":23.0},{"x":4.7,"y":22.3},{"x":5.0,"y":21.9},{"x":4.7,"y":24.6},{"x":4.4,"y":24.3},
{"x":-0.9,"y":23.3},{"x":0.3,"y":23.3},{"x":1.4,"y":23.4},{"x":2.5,"y":23.5},{"x":3.5,"y":23.9},{"x":3.5,"y":21.9},{"x":5.1,"y":21.7},{"x":3.5,"y":20.7},
{"x":-1.4,"y":20.9},{"x":-0.2,"y":20.8},{"x":1.0,"y":20.7},{"x":2.2,"y":20.6},{"x":3.2,"y":20.4},{"x":3.5,"y":19.7},{"x":3.9,"y":19.4},{"x":4.2,"y":19.1},{"x":4.4,"y":18.8},{"x":4.7,"y":18.4},{"x":5.4,"y":17.7},
{"x":-1.2,"y":17.7},{"x":0.0,"y":17.7},{"x":1.2,"y":17.7},{"x":2.4,"y":17.7},{"x":3.5,"y":18.2},{"x":3.1,"y":16.6},{"x":3.1,"y":15.4},
{"x":-2.0,"y":15.3},{"x":-0.9,"y":15.1},{"x":0.2,"y":15.1},{"x":1.3,"y":14.8},{"x":1.9,"y":15.1},{"x":3.2,"y":14.0},{"x":3.9,"y":13.1},{"x":4.6,"y":12.1},{"x":5.0,"y":11.7},
{"x":-1.8,"y":13.5},{"x":-0.7,"y":13.6},{"x":0.4,"y":13.8},{"x":1.1,"y":12.1},{"x":1.4,"y":11.7},{"x":0.8,"y":11.1},{"x":1.1,"y":12.4},
{"x":-3.8,"y":11.4},{"x":-2.6,"y":11.3},{"x":-1.5,"y":11.1},{"x":-0.2,"y":11.0},{"x":-0.1,"y":10.5},{"x":1.1,"y":10.5},{"x":1.8,"y":10.0},{"x":2.6,"y":9.4},{"x":3.1,"y":8.9},{"x":3.3,"y":8.4},
{"x":-6.0,"y":9.1},{"x":-4.7,"y":9.2},{"x":-3.5,"y":9.4},{"x":-2.3,"y":9.5},{"x":-1.0,"y":9.8},{"x":0.5,"y":9.1},{"x":0.6,"y":7.8},{"x":0.9,"y":6.6},{"x":1.7,"y":5.7},{"x":0.6,"y":5.7},{"x":1.3,"y":5.2},
{"x":-3.7,"y":6.7},{"x":-2.6,"y":6.6},{"x":-1.5,"y":6.5},{"x":-0.4,"y":6.1},
{"x":-3.7,"y":4.4},{"x":-2.6,"y":4.5},{"x":-1.5,"y":4.7},{"x":-0.4,"y":5.0},{"x":2.5,"y":4.7},{"x":3.2,"y":4.1},{"x":0.8,"y":4.1},{"x":0.9,"y":2.7},{"x":1.5,"y":1.7},{"x":2.1,"y":0.8},{"x":3.1,"y":0.2},{"x":3.5,"y":-0.2},{"x":4.2,"y":-0.7},
{"x":-5.3,"y":2.2},{"x":-4.4,"y":2.0},{"x":-3.3,"y":2.0},{"x":-2.1,"y":1.7},{"x":-1.0,"y":1.6},{"x":0.1,"y":1.8}
],
"stops":[
{"x":-21.1,"y":44.8},{"x":-20.9,"y":44.6},{"x":-20.8,"y":17.5},{"x":-23.7,"y":9.6},{"x":-24.3,"y":9.2},{"x":-55.8,"y":6.4},{"x":-54.0,"y":6.0},{"x":-50.7,"y":5.4},{"x":-0.3,"y":0.1}
]
},
"layer":[
{"data":{"name":"work"},
"mark":{"type":"circle","size":44,"opacity":1},
"encoding":{
"x":{"field":"x","type":"quantitative","scale":{"domain":[-80,10],"nice":false,"zero":false},
"axis":{"orient":"bottom","offset":-72,"values":[-80,-70,-60,-50,-40,-30,-20,-10,0,10],"grid":false,"domainColor":"#868686","tickColor":"#868686","tickSize":6,"labelPadding":11,"labelFont":"Lato","labelFontSize":17,"labelColor":"#000000","labelFlush":false,"labelOverlap":false,"title":"X coordinate, m","titleFont":"Lato","titleFontSize":20,"titleFontWeight":"normal","titleColor":"#000000","titleX":342,"titleY":91,"titleAlign":"center","titleBaseline":"middle"}},
"y":{"field":"y","type":"quantitative","scale":{"domain":[-10,60],"nice":false,"zero":false},
"axis":{"orient":"right","values":[-10,0,10,20,30,40,50,60],"grid":true,"gridColor":"#a6a6a6","gridWidth":1,"domain":false,"ticks":false,"tickSize":0,"labelAlign":"right","labelBaseline":"middle","labelPadding":36,"labelFont":"Lato","labelFontSize":17,"labelColor":"#000000","labelOverlap":false,"title":"Y coordinate, m","titleFont":"Lato","titleFontSize":20,"titleFontWeight":"normal","titleColor":"#000000","titleAngle":270,"titleX":80,"titleY":241,"titleAlign":"center","titleBaseline":"middle"}},
"color":{"datum":"Effective work","type":"nominal","scale":{"domain":["Effective work","Turns","Stops"],"range":["#C00000","#92D050","#0000FF"]},
"legend":{"orient":"none","legendX":142,"legendY":-44,"direction":"horizontal","title":null,"padding":0,"labelFont":"Lato","labelFontSize":21,"labelColor":"#000000","columnPadding":71,"labelOffset":3,"symbolType":"circle","symbolStrokeWidth":0,
"encode":{"symbols":{"update":{"size":{"signal":"datum.value === 'Stops' ? 160 : (datum.value === 'Turns' ? 50 : 40)"}}}}}}
}},
{"data":{"name":"turns"},
"mark":{"type":"circle","size":55,"opacity":1},
"encoding":{
"x":{"field":"x","type":"quantitative","axis":null},
"y":{"field":"y","type":"quantitative","axis":{"orient":"left","offset":-653.33,"values":[-10,0,10,20,30,40,50,60],"grid":false,"labels":false,"title":null,"domainColor":"#868686","tickColor":"#868686","tickSize":5}},
"color":{"datum":"Turns","type":"nominal"}
}},
{"data":{"name":"stops"},
"mark":{"type":"circle","size":220,"opacity":1,"stroke":"#6a5acd","strokeWidth":1.5},
"encoding":{
"x":{"field":"x","type":"quantitative","axis":null},
"y":{"field":"y","type":"quantitative","axis":null},
"color":{"datum":"Stops","type":"nominal"}
}}
],
"resolve":{"axis":{"x":"independent","y":"independent"}}
}
